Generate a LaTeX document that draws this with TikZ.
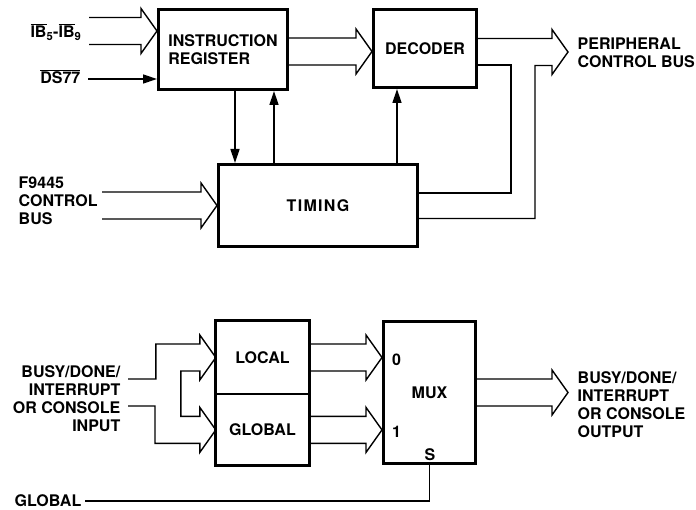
\documentclass[tikz,border=0pt]{standalone}
\usepackage{fontspec}
\setmainfont{TeX Gyre Heros}
\usetikzlibrary{calc, arrows.meta, positioning}

\newcommand{\negsig}[1]{$\overline{\hbox{#1}}$}
% wide bus arrow, from tail (centre) to tip
\newcommand{\bus}[2]{%
  \draw ($(#1)+(0,-13.5)$) -- ($(#2)+(-16,-13.5)$) -- ++(0,-9) -- (#2)
    -- ++(-16,22.5) -- ++(0,-9) -- ($(#1)+(0,13.5)$);}

\tikzset{
  blk/.style={draw, line width=3pt, inner sep=0pt},
  lbl/.style={inner sep=0pt},
  sig/.style={-{Triangle[length=14pt,width=9pt]}},
}

\begin{document}
\begin{tikzpicture}[x=1pt, y=-1pt, line width=1.4pt,
    font=\fontsize{16}{18}\selectfont\bfseries]
  \useasboundingbox (0,0) rectangle (696,510);

  % upper section
  \node[blk, align=left, minimum width=129pt, minimum height=80pt] (ir) at (223,49.5) {INSTRUCTION\\REGISTER};
  \node[blk, minimum width=103pt, minimum height=78pt] (dec) at (425,48.5) {DECODER};
  \node[blk, minimum width=199pt, minimum height=82pt] (tim) at (318,205.5) {\addfontfeature{LetterSpace=8}TIMING};

  \node[lbl, anchor=east] (ib) at (82,32) {\negsig{IB}\textsubscript{5}-\negsig{IB}\textsubscript{9}};
  \node[lbl, anchor=east] (ds) at (81,76.5) {\negsig{DS77}};
  \node[lbl, anchor=west, align=left] (f94) at (18,201) {F9445\\CONTROL\\BUS};
  \node[lbl, anchor=west, align=left] (pcb) at (577,52.5) {PERIPHERAL\\CONTROL BUS};

  \coordinate (ibtail) at (89,31);
  \coordinate (ibtip) at (ir.west |- ibtail);
  \bus{ibtail}{ibtip}
  \coordinate (dsin) at (88,79);
  \draw[sig] (dsin) -- (ir.west |- dsin);

  \coordinate (f94tail) at (102,205.5);
  \bus{f94tail}{tim.west}

  \coordinate (irout) at ($(ir.east)+(0,2)$);
  \coordinate (decin) at (dec.west |- irout);
  \bus{irout}{decin}

  \coordinate (a1) at ($(tim.north west)+(18,0)$);
  \coordinate (a2) at ($(tim.north west)+(57,0)$);
  \coordinate (a3) at ($(tim.north east)+(-22,0)$);
  \draw[sig] (a1 |- ir.south) -- (a1);
  \draw[sig] (a2) -- (a2 |- ir.south);
  \draw[sig] (a3) -- (a3 |- dec.south);

  \coordinate (pcbtip) at (568,52);
  \draw ($(dec.east)+(0,-10)$) -- ($(pcbtip)+(-16,-13.5)$) -- ++(0,-9) -- (pcbtip)
    -- ++(-16,22.5) -- ++(0,-9) -- ++(-17,0) |- ($(tim.east)+(0,13)$);
  \draw ($(dec.east)+(0,16.5)$) -| ($(tim.east)+(92,-12.5)$) -- ($(tim.east)+(0,-12.5)$);

  % lower section
  \node[minimum width=92pt, minimum height=72pt] (local) at (262.5,357.5) {LOCAL};
  \node[minimum width=92pt, minimum height=70pt, below=0pt of local] (global) {GLOBAL};
  \draw[line width=3pt] (local.north west) rectangle (global.south east);
  \draw (local.south west) -- (local.south east);

  \node[blk, minimum width=92pt, minimum height=142pt] (mux) at (429.5,392.5) {MUX};
  \node[lbl] (m0) at ($(mux.west)+(14.5,-32.5)$) {0};
  \node[lbl] (m1) at ($(mux.west)+(14.5,39.5)$) {1};
  \node[lbl] (ms) at ($(mux.south)+(0.5,-10.5)$) {S};

  \coordinate (m0tip) at (mux.west |- local.east);
  \bus{local.east}{m0tip}
  \coordinate (m1tip) at (mux.west |- global.east);
  \bus{global.east}{m1tip}
  \coordinate (outtip) at (568,392.5);
  \bus{mux.east}{outtip}

  \node[lbl, anchor=east, align=right] (busin) at (121,398.5) {BUSY/DONE/\\INTERRUPT\\OR CONSOLE\\INPUT};
  \coordinate (in1) at (128,379);
  \coordinate (in2) at (128,406);
  \draw (in1) -| ($(local.west)+(-60,-13.5)$) -- ($(local.west)+(-16,-13.5)$) -- ++(0,-9) -- (local.west)
    -- ++(-16,22.5) -- ++(0,-9) -- ++(-19,0) |- ($(global.west)+(-16,-13.5)$) -- ++(0,-9) -- (global.west)
    -- ++(-16,22.5) -- ++(0,-9) -| ($(in2)+(27,0)$) -- (in2);

  \node[lbl, anchor=west, align=left] (busout) at (577,404.5) {BUSY/DONE/\\INTERRUPT\\OR CONSOLE\\OUTPUT};

  \node[lbl, anchor=east] (gsel) at (82,501) {GLOBAL};
  \draw ($(gsel.east)+(3,0)$) -| (mux.south);
\end{tikzpicture}
\end{document}
